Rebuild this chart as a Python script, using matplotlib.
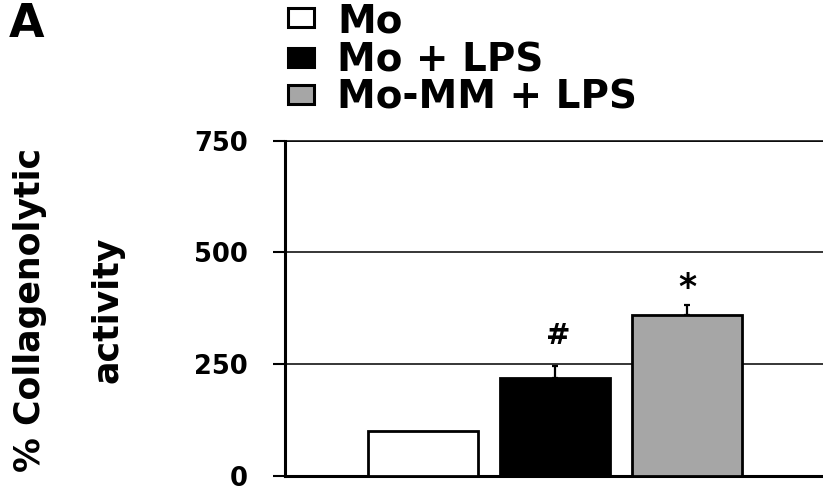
import matplotlib
matplotlib.use("Agg")
import matplotlib.pyplot as plt
from matplotlib.patches import Rectangle

# collagenolytic activity (% of Mo control), mean + SEM
groups = ["Mo", "Mo + LPS", "Mo-MM + LPS"]
activity = [100, 219, 359]
sem = [0, 26, 24]
marks = ["", "#", "*"]
colors = ["white", "black", "#a6a6a6"]
yticks = [0, 250, 500, 750]

W, H = 823, 491
plt.rcParams['font.family'] = ['DejaVu Sans']
plt.rcParams['font.weight'] = 'bold'

def fx(px):
    return px / W

def fy(py):
    return 1 - py / H

fig = plt.figure(figsize=(W / 100, H / 100), dpi=100)
ax = fig.add_axes([fx(285), fy(475.5), fx(W - 285), (475.5 - 140.7) / H])

x = list(range(len(groups)))
ax.bar(x, activity, width=0.835, color=colors, edgecolor='black',
       linewidth=2, zorder=3)

# upper error bars only where there is an SEM
ex = [xi for xi, e in zip(x, sem) if e > 0]
ev = [v for v, e in zip(activity, sem) if e > 0]
ee = [e for e in sem if e > 0]
ax.errorbar(ex, ev, yerr=[[0] * len(ee), ee], fmt='none',
            ecolor='black', elinewidth=1.6, capsize=2.2, capthick=1.6,
            zorder=2)

# significance marks above the error bars
mark_style = {"#": dict(size=21, dx=2, dy=16), "*": dict(size=25, dx=0, dy=4.5)}
for xi, v, e, m in zip(x, activity, sem, marks):
    if not m:
        continue
    s = mark_style[m]
    ax.annotate(m, (xi, v + e), xytext=(s["dx"], s["dy"]),
                textcoords='offset points', ha='center', va='baseline',
                fontsize=s["size"], fontweight='bold')

ax.set_ylim(0, 750)
ax.set_xlim(-1.045, 3.03)
ax.set_yticks(yticks)
ax.set_xticks([])
ax.yaxis.grid(True, color='black', linewidth=1.1)
ax.set_axisbelow(True)
ax.tick_params(axis='y', direction='out', length=8.5, width=1.5, pad=18,
               labelsize=18.5)
for t in ax.yaxis.get_major_ticks():
    t.label1.set_fontweight('bold')
ax.spines['right'].set_visible(False)
ax.spines['top'].set_linewidth(1.1)
ax.spines['left'].set_linewidth(2.2)
ax.spines['bottom'].set_linewidth(2.2)

fig.text(fx(69), fy(310), "% Collagenolytic\nactivity", rotation=90,
         ha='center', va='center', multialignment='center',
         linespacing=2.6, fontsize=25, fontweight='bold')

# panel letter
fig.text(fx(9), fy(2), "A", ha='left', va='top', fontsize=33,
         fontweight='bold')

# legend drawn as boxes + labels
row_y = [17.5, 57, 94]
for lab, c, ry in zip(groups, colors, row_y):
    fig.add_artist(Rectangle((fx(288), fy(ry + 9.5)), fx(26), 19 / H,
                             transform=fig.transFigure, facecolor=c,
                             edgecolor='black', linewidth=2.2))
    fig.text(fx(337), fy(ry), lab, ha='left', va='center_baseline',
             fontsize=28, fontweight='bold')

fig.savefig("out.png", dpi=100)
